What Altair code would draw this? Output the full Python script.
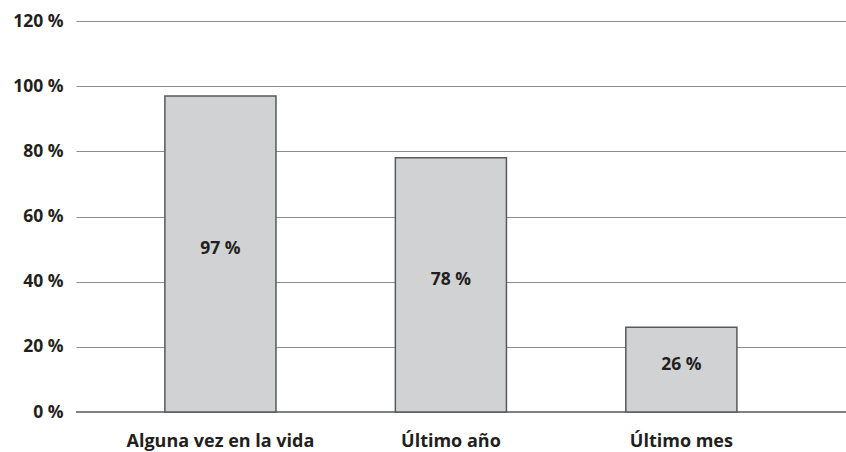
import altair as alt
import pandas as pd

# Prevalence by time period (percent)
categories = ["Alguna vez en la vida", "Último año", "Último mes"]
values = [97, 78, 26]
y_ticks = [0, 20, 40, 60, 80, 100, 120]

df = pd.DataFrame({"periodo": categories, "pct": values})

FONT = "Open Sans"
TEXT = "#231f20"

x_enc = alt.X(
    "periodo:N",
    sort=categories,
    scale=alt.Scale(paddingInner=0.518, paddingOuter=0.4295, align=0.449),
    axis=alt.Axis(
        title=None,
        labelAngle=0,
        labelFont=FONT,
        labelFontSize=18,
        labelFontWeight="bold",
        labelColor=TEXT,
        labelPadding=20,
        labelLimit=400,
        ticks=False,
        domain=False,
        grid=False,
    ),
)

y_scale = alt.Scale(domain=[0, 120], nice=False)

bars = alt.Chart(df).mark_bar(
    fill="#d1d2d4", stroke="#58595b", strokeWidth=1.5
).encode(
    x=x_enc,
    y=alt.Y(
        "pct:Q",
        scale=y_scale,
        axis=alt.Axis(
            title=None,
            values=y_ticks,
            labelExpr="datum.value + ' %'",
            labelFont=FONT,
            labelFontSize=17.5,
            labelFontWeight="bold",
            labelColor=TEXT,
            labelPadding=13,
            ticks=False,
            domain=False,
            grid=True,
            gridColor="#8c8c8c",
            gridWidth=1,
        ),
    ),
)

zero_line = alt.Chart(pd.DataFrame({"y": [0]})).mark_rule(
    color="#808080", strokeWidth=2
).encode(y=alt.Y("y:Q", scale=y_scale))

labels = alt.Chart(df).transform_calculate(
    mid="datum.pct / 2",
    txt="datum.pct + ' %'",
).mark_text(
    font=FONT, fontSize=17.5, fontWeight="bold", color=TEXT, baseline="alphabetic"
).encode(
    x=alt.X("periodo:N", sort=categories),
    y=alt.Y("mid:Q", scale=y_scale),
    text="txt:N",
)

chart = (
    alt.layer(zero_line, bars, labels)
    .properties(
        width=770,
        height=391,
        autosize=alt.AutoSizeParams(type="none"),
        padding={"left": 76, "top": 21, "right": 0, "bottom": 40},
        background="white",
    )
    .configure_view(stroke=None)
)

chart.save("out.html", embed_options={"renderer": "svg", "actions": False})
